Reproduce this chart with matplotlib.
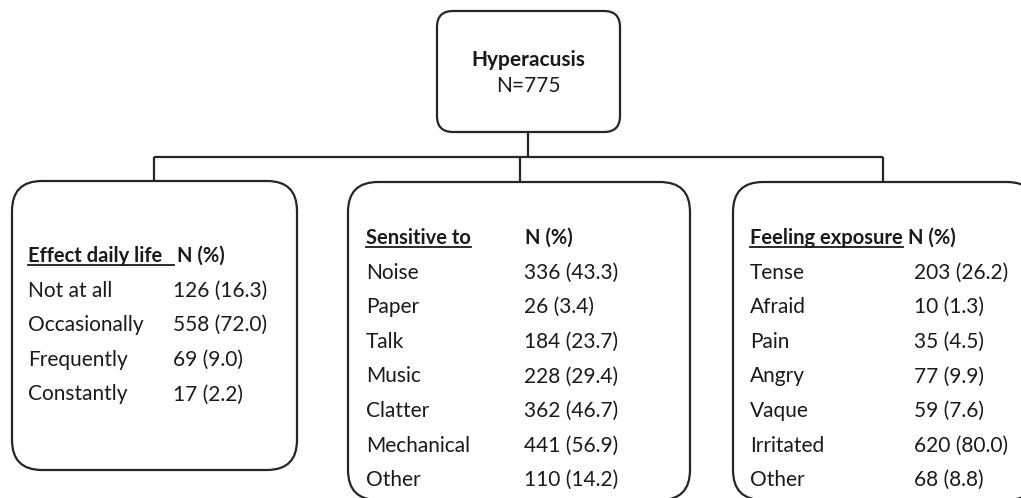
import matplotlib
matplotlib.use("Agg")
import matplotlib.pyplot as plt
from matplotlib.patches import FancyBboxPatch

INK = "#1a1a1a"
LINE = "#262626"
FONT = "Lato"
FS = 15
FSH = 14.5  # bold headers (Lato bold runs wider than the original face)

# ---- data ----------------------------------------------------------------
root_title = "Hyperacusis"
root_n = 775

effect_header = "Effect daily life"
effect_cats = ["Not at all", "Occasionally", "Frequently", "Constantly"]
effect_n = [126, 558, 69, 17]
effect_pct = [16.3, 72.0, 9.0, 2.2]

sens_header = "Sensitive to"
sens_cats = ["Noise", "Paper", "Talk", "Music", "Clatter", "Mechanical", "Other"]
sens_n = [336, 26, 184, 228, 362, 441, 110]
sens_pct = [43.3, 3.4, 23.7, 29.4, 46.7, 56.9, 14.2]

feel_header = "Feeling exposure"
feel_cats = ["Tense", "Afraid", "Pain", "Angry", "Vaque", "Irritated", "Other"]
feel_n = [203, 10, 35, 77, 59, 620, 68]
feel_pct = [26.2, 1.3, 4.5, 9.9, 7.6, 80.0, 8.8]

# ---- canvas: one unit = one pixel, y downwards -----------------------------
W, H = 1021, 498
fig = plt.figure(figsize=(W / 100, H / 100), dpi=100)
ax = fig.add_axes([0, 0, 1, 1])
ax.set_xlim(0, W); ax.set_ylim(H, 0)
ax.axis("off")

def box(x0, y0, x1, y1, r):
    ax.add_patch(FancyBboxPatch((x0, y0), x1 - x0, y1 - y0,
                                boxstyle=f"round,pad=0,rounding_size={r}",
                                fc="white", ec=LINE, lw=1.6, zorder=2))

# root box
box(437, 11, 620, 132, 16)
ax.text(528, 60, root_title, ha="center", va="center", fontsize=FS, fontweight="bold",
        color=INK, family=FONT)
ax.text(528, 86, f"N={root_n}", ha="center", va="center", fontsize=FS, color=INK, family=FONT)

# connectors
kw = dict(color=LINE, lw=1.6, solid_capstyle="butt", zorder=1)
ax.plot([528, 528], [132, 157], **kw)
ax.plot([154, 883], [157, 157], **kw)
for cx in (154, 520, 883):
    ax.plot([cx, cx], [157, 182], **kw)

# child boxes
box(12, 181, 297, 470, 30)
box(348, 182, 690, 500, 30)
box(733, 182, 1037, 500, 30)

underlines = []

def panel(x_lab, x_val, y_head, header, cats, ns, pcts, x_nhead):
    t = ax.text(x_lab, y_head, header, ha="left", va="center", fontsize=FSH,
                fontweight="bold", color=INK, family=FONT)
    underlines.append(t)
    ax.text(x_nhead, y_head, "N (%)", ha="left", va="center", fontsize=FSH,
            fontweight="bold", color=INK, family=FONT)
    for i, (c, n, p) in enumerate(zip(cats, ns, pcts)):
        y = y_head + 34.6 * (i + 1)
        ax.text(x_lab, y, c, ha="left", va="center", fontsize=FS, color=INK, family=FONT)
        ax.text(x_val, y, f"{n} ({p:.1f})", ha="left", va="center", fontsize=FS,
                color=INK, family=FONT)

panel(28, 173, 256, effect_header, effect_cats, effect_n, effect_pct, 177)
panel(366, 524, 238, sens_header, sens_cats, sens_n, sens_pct, 525)
panel(750, 914, 238, feel_header, feel_cats, feel_n, feel_pct, 908)

# underline the section headers
fig.canvas.draw()
inv = ax.transData.inverted()
for k, t in enumerate(underlines):
    bb = t.get_window_extent()
    (x0, y0), (x1, y1) = inv.transform([(bb.x0, bb.y0), (bb.x1, bb.y1)])
    if k == 0:
        x1 = 174
    ax.plot([x0, x1], [y0 - 1, y0 - 1], color=INK, lw=1.3, zorder=3)

fig.savefig("out.png", dpi=100)
